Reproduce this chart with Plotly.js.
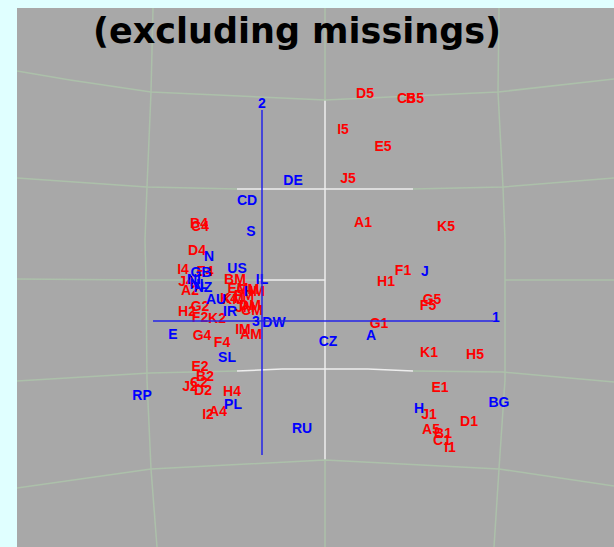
<!DOCTYPE html>
<html><head><meta charset="utf-8">
<script src="https://cdn.plot.ly/plotly-3.0.1.min.js"></script>
<style>html,body{margin:0;padding:0;background:#e0ffff;} #chart{width:614px;height:547px;}</style>
</head><body><div id="chart"></div>
<script>
// ---- data: category points (red) ----
const categoryLabels = ["A1","B1","C1","D1","E1","F1","G1","H1","I1","J1","K1",
  "A2","B2","C2","D2","E2","F2","G2","H2","I2","J2","K2",
  "AM","BM","CM","DM","EM","FM","GM","HM","IM","JM","KM",
  "A4","B4","C4","D4","E4","F4","G4","H4","I4","J4","K4",
  "A5","B5","C5","D5","E5","F5","G5","H5","I5","J5","K5"];
const categoryX = [1.01,1.81,1.80,2.07,1.78,1.41,1.17,1.24,1.88,1.67,1.67,
  -0.72,-0.57,-0.63,-0.59,-0.62,-0.62,-0.62,-0.75,-0.54,-0.72,-0.45,
  -0.11,-0.27,-0.10,-0.12,-0.24,-0.18,-0.14,-0.08,-0.19,-0.17,-0.29,
  -0.44,-0.63,-0.62,-0.65,-0.57,-0.40,-0.60,-0.30,-0.79,-0.76,-0.33,
  1.69,1.53,1.44,1.03,1.21,1.66,1.70,2.13,0.81,0.86,1.84];
const categoryY = [0.98,-1.13,-1.20,-1.01,-0.67,0.50,-0.03,0.39,-1.27,-0.94,-0.32,
  0.30,-0.56,-0.62,-0.70,-0.46,0.03,0.14,0.09,-0.94,-0.66,0.02,
  -0.14,0.41,0.10,0.15,0.32,0.25,0.31,0.29,-0.09,0.13,0.21,
  -0.91,0.97,0.94,0.70,0.49,-0.22,-0.15,-0.71,0.51,0.39,0.22,
  -1.09,2.22,2.22,2.27,1.74,0.15,0.21,-0.34,1.91,1.42,0.94];

// ---- data: country points (blue) ----
const countryLabels = ["A","AU","BG","CD","CZ","DE","DW","E","GB","H","I","IL",
  "IR","J","N","NI","NL","NZ","PL","RP","RU","S","SL","US"];
const countryX = [1.09,-0.46,2.37,-0.15,0.66,0.31,0.12,-0.89,-0.61,1.57,-0.16,0.00,
  -0.32,1.63,-0.53,-0.68,-0.63,-0.59,-0.29,-1.20,0.40,-0.11,-0.35,-0.25];
const countryY = [-0.15,0.21,-0.82,1.20,-0.21,1.40,-0.02,-0.14,0.48,-0.88,0.29,0.41,
  0.09,0.49,0.64,0.41,0.36,0.33,-0.84,-0.75,-1.08,0.89,-0.37,0.52];

// ---- axis names ----
const axisNames = ["1","2","3"];

// ---- layout helpers (pixel -> data for decorative grid) ----
const fx = p => (p - 262) / 100;
const fy = p => (321 - p) / 100;
const GREEN = "rgb(172,192,170)";
const WHITE = "rgb(238,238,238)";
function pathOf(pts){
  return pts.map((p,i)=>(i?"L":"M")+fx(p[0]).toFixed(3)+","+fy(p[1]).toFixed(3)).join(" ");
}
const gridDefs = [
  [[[153,8],[151,92],[147,187],[145,240],[146,280],[147,380],[151,469],[157,547]], GREEN],
  [[[325,8],[325,100]], GREEN],
  [[[325,100],[325,460]], WHITE],
  [[[325,460],[325,547]], GREEN],
  [[[499,8],[498,92],[503,187],[505,240],[505,300],[505,380],[499,469],[494,547]], GREEN],
  [[[17,71],[70,80],[151,92],[325,100],[498,92],[614,79]], GREEN],
  [[[17,178],[147,187],[237,189]], GREEN],
  [[[237,189],[413,189]], WHITE],
  [[[413,189],[503,187],[614,178]], GREEN],
  [[[17,279],[146,280],[258,280]], GREEN],
  [[[258,280],[325,280]], WHITE],
  [[[505,280],[614,280]], GREEN],
  [[[17,381],[150,373],[237,371]], GREEN],
  [[[237,371],[282,369],[368,369],[413,371]], WHITE],
  [[[413,371],[503,372],[614,382]], GREEN],
  [[[17,488],[151,469],[325,460],[499,469],[614,486]], GREEN]
];
const shapes = gridDefs.map(g => ({type:"path", xref:"x", yref:"y", path:pathOf(g[0]),
  line:{color:g[1], width:1.5}, layer:"below"}));
const AXC = "#2424e8";
shapes.push({type:"line", xref:"x", yref:"y", x0:fx(153), x1:fx(493), y0:0, y1:0, line:{color:AXC,width:1.5}});
shapes.push({type:"line", xref:"x", yref:"y", x0:0, x1:0, y0:fy(110), y1:fy(455), line:{color:AXC,width:1.5}});

const axisFont = {family:"Liberation Sans, Arial, sans-serif", size:14, color:"#0000ff", weight:"bold"};
const annotations = [
  {x:fx(496), y:fy(317), text:axisNames[0]},
  {x:fx(262), y:fy(103), text:axisNames[1]},
  {x:fx(256), y:fy(321), text:axisNames[2]}
].map(a => Object.assign(a, {xref:"x", yref:"y", showarrow:false, font:axisFont}));

const labelFont = {family:"Liberation Sans, Arial, sans-serif", size:14, weight:"bold"};

const traces = [
  {type:"scatter", mode:"text", x:categoryX, y:categoryY, text:categoryLabels,
   textposition:"middle center", textfont:Object.assign({color:"#ff0000"}, labelFont),
   hoverinfo:"none", showlegend:false},
  {type:"scatter", mode:"text", x:countryX, y:countryY, text:countryLabels,
   textposition:"middle center", textfont:Object.assign({color:"#0000ff"}, labelFont),
   hoverinfo:"none", showlegend:false}
];

const layout = {
  width:614, height:547,
  paper_bgcolor:"#e0ffff", plot_bgcolor:"#a8a8a8",
  margin:{l:17, r:0, t:8, b:0, pad:0},
  title:{text:"(excluding missings)", x:(297-17)/597, xanchor:"center", xref:"paper",
         y:1-31/547, yanchor:"middle", yref:"container",
         font:{family:"DejaVu Sans, sans-serif", size:35, color:"#000000", weight:"bold"}},
  xaxis:{range:[fx(17), fx(614)], visible:false, fixedrange:true},
  yaxis:{range:[fy(547), fy(8)], visible:false, fixedrange:true},
  shapes:shapes, annotations:annotations, showlegend:false
};
Plotly.newPlot("chart", traces, layout, {displayModeBar:false, staticPlot:true});
</script>
</body></html>
